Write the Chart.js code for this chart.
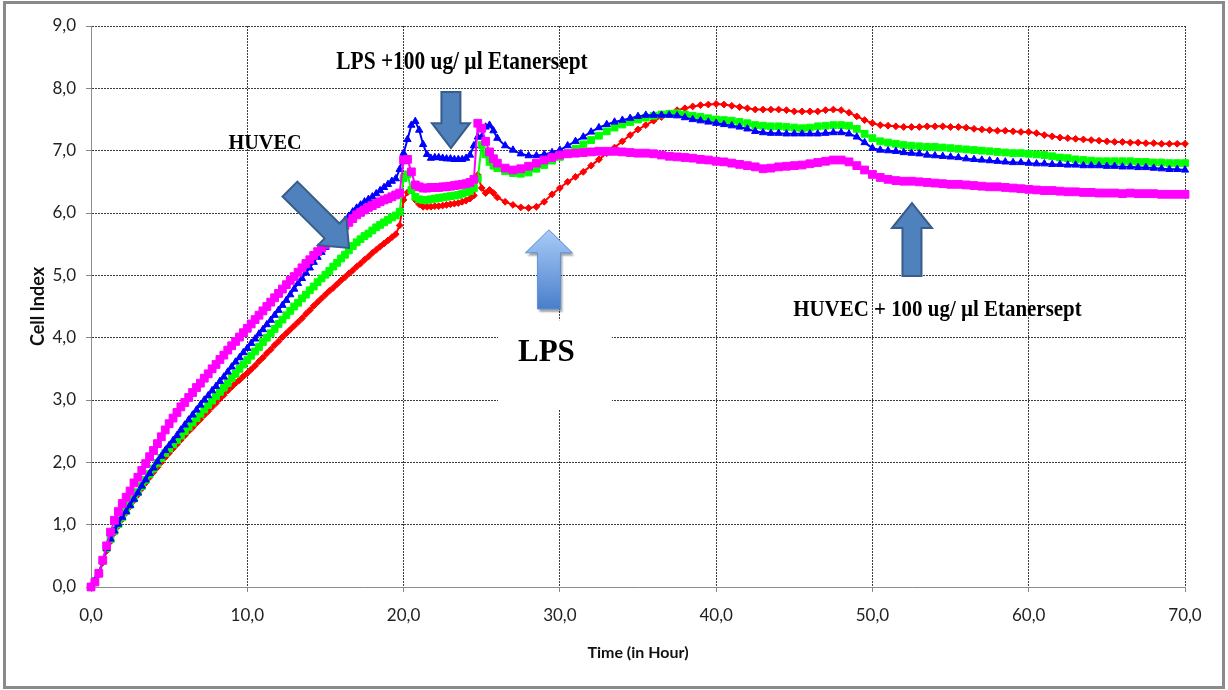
<!DOCTYPE html>
<html>
<head>
<meta charset="utf-8">
<script src="https://cdn.jsdelivr.net/npm/chart.js@4.4.1/dist/chart.umd.min.js"></script>
<style>
  body { margin: 0; background: #fff; }
  #wrap { width: 1228px; height: 690px; }
</style>
</head>
<body>
<div id="wrap"><canvas id="chart" width="1228" height="690"></canvas></div>
<script>
// time points (hours)
const times = [
  0, 0.25, 0.5, 0.75, 1, 1.25, 1.5, 1.75,
  2, 2.25, 2.5, 2.75, 3, 3.25, 3.5, 3.75,
  4, 4.25, 4.5, 4.75, 5, 5.25, 5.5, 5.75,
  6, 6.25, 6.5, 6.75, 7, 7.25, 7.5, 7.75,
  8, 8.25, 8.5, 8.75, 9, 9.25, 9.5, 9.75,
  10, 10.25, 10.5, 10.75, 11, 11.25, 11.5, 11.75,
  12, 12.25, 12.5, 12.75, 13, 13.25, 13.5, 13.75,
  14, 14.25, 14.5, 14.75, 15, 15.25, 15.5, 15.75,
  16, 16.25, 16.5, 16.75, 17, 17.25, 17.5, 17.75,
  18, 18.25, 18.5, 18.75, 19, 19.25, 19.5,
  19.75, 20, 20.25, 20.5, 20.75, 21, 21.25, 21.5, 21.75, 22, 22.25, 22.5, 22.75,
  23, 23.25, 23.5, 23.75, 24, 24.25, 24.5, 24.75, 25, 25.25, 25.5, 25.75, 26,
  26.5, 27, 27.5, 28, 28.5, 29, 29.5, 30, 30.5, 31,
  31.5, 32, 32.5, 33, 33.5, 34, 34.5, 35, 35.5, 36,
  36.5, 37, 37.5, 38, 38.5, 39, 39.5, 40, 40.5, 41,
  41.5, 42, 42.5, 43, 43.5, 44, 44.5, 45, 45.5, 46,
  46.5, 47, 47.5, 48, 48.5, 49, 49.5, 50, 50.5, 51,
  51.5, 52, 52.5, 53, 53.5, 54, 54.5, 55, 55.5, 56,
  56.5, 57, 57.5, 58, 58.5, 59, 59.5, 60, 60.5, 61,
  61.5, 62, 62.5, 63, 63.5, 64, 64.5, 65, 65.5, 66,
  66.5, 67, 67.5, 68, 68.5, 69, 69.5, 70
];

// cell index, red (diamonds)
const redSeries = [
  0.00, 0.09, 0.20, 0.39, 0.58, 0.73, 0.87, 0.98,
  1.09, 1.19, 1.29, 1.39, 1.48, 1.58, 1.67, 1.76,
  1.84, 1.92, 2.00, 2.08, 2.15, 2.22, 2.29, 2.36,
  2.43, 2.50, 2.56, 2.63, 2.69, 2.76, 2.82, 2.89,
  2.95, 3.02, 3.08, 3.15, 3.21, 3.27, 3.32, 3.38,
  3.43, 3.49, 3.55, 3.62, 3.68, 3.75, 3.81, 3.88,
  3.94, 4.01, 4.07, 4.13, 4.19, 4.25, 4.31, 4.38,
  4.44, 4.51, 4.57, 4.63, 4.69, 4.75, 4.80, 4.86,
  4.92, 4.97, 5.03, 5.08, 5.14, 5.19, 5.25, 5.30,
  5.36, 5.41, 5.46, 5.51, 5.56, 5.61, 5.66,
  5.80, 6.21, 6.33, 6.36, 6.21, 6.14, 6.10, 6.10, 6.10, 6.11, 6.11, 6.12, 6.13,
  6.14, 6.15, 6.16, 6.18, 6.20, 6.23, 6.28, 6.61, 6.40, 6.32, 6.37, 6.32, 6.25,
  6.18, 6.13, 6.09, 6.08, 6.10, 6.18, 6.30, 6.40, 6.50, 6.58,
  6.66, 6.76, 6.86, 6.96, 7.05, 7.15, 7.25, 7.34, 7.41, 7.48,
  7.54, 7.60, 7.65, 7.68, 7.71, 7.73, 7.74, 7.75, 7.74, 7.72,
  7.70, 7.68, 7.66, 7.66, 7.66, 7.66, 7.65, 7.63, 7.63, 7.63,
  7.63, 7.65, 7.66, 7.65, 7.61, 7.55, 7.49, 7.44, 7.41, 7.40,
  7.39, 7.38, 7.38, 7.38, 7.39, 7.39, 7.39, 7.38, 7.38, 7.37,
  7.35, 7.34, 7.33, 7.32, 7.32, 7.31, 7.30, 7.30, 7.28, 7.25,
  7.23, 7.21, 7.20, 7.19, 7.18, 7.17, 7.16, 7.15, 7.14, 7.14,
  7.13, 7.13, 7.12, 7.12, 7.11, 7.11, 7.11, 7.11
];

// cell index, green (squares)
const greenSeries = [
  0.00, 0.10, 0.22, 0.42, 0.62, 0.77, 0.90, 1.01,
  1.12, 1.22, 1.32, 1.42, 1.52, 1.62, 1.72, 1.81,
  1.90, 1.99, 2.07, 2.15, 2.22, 2.29, 2.36, 2.43,
  2.50, 2.57, 2.64, 2.71, 2.78, 2.85, 2.92, 2.99,
  3.06, 3.13, 3.20, 3.27, 3.35, 3.42, 3.50, 3.57,
  3.64, 3.71, 3.78, 3.85, 3.93, 4.00, 4.07, 4.14,
  4.22, 4.29, 4.36, 4.43, 4.50, 4.56, 4.63, 4.69,
  4.76, 4.82, 4.89, 4.95, 5.01, 5.07, 5.14, 5.20,
  5.27, 5.33, 5.40, 5.47, 5.53, 5.58, 5.63, 5.67,
  5.72, 5.77, 5.81, 5.85, 5.89, 5.93, 5.96,
  6.02, 6.56, 6.62, 6.37, 6.26, 6.22, 6.21, 6.21, 6.22, 6.23, 6.24, 6.25, 6.26,
  6.27, 6.28, 6.29, 6.31, 6.33, 6.35, 6.40, 6.55, 7.09, 6.94, 6.82, 6.76, 6.72,
  6.67, 6.64, 6.63, 6.65, 6.71, 6.77, 6.84, 6.90, 6.96, 7.03,
  7.10, 7.17, 7.24, 7.31, 7.37, 7.42, 7.46, 7.50, 7.53, 7.56,
  7.58, 7.59, 7.60, 7.58, 7.56, 7.54, 7.52, 7.50, 7.49, 7.48,
  7.46, 7.44, 7.41, 7.40, 7.39, 7.39, 7.38, 7.37, 7.36, 7.37,
  7.39, 7.40, 7.41, 7.41, 7.40, 7.35, 7.27, 7.20, 7.15, 7.13,
  7.11, 7.09, 7.08, 7.07, 7.06, 7.06, 7.05, 7.04, 7.03, 7.02,
  7.01, 7.00, 6.99, 6.98, 6.97, 6.96, 6.96, 6.95, 6.94, 6.93,
  6.91, 6.89, 6.88, 6.86, 6.85, 6.84, 6.83, 6.83, 6.83, 6.83,
  6.83, 6.82, 6.82, 6.81, 6.81, 6.80, 6.80, 6.80
];

// cell index, blue (triangles)
const blueSeries = [
  0.00, 0.10, 0.22, 0.42, 0.62, 0.77, 0.90, 1.01,
  1.12, 1.21, 1.31, 1.41, 1.51, 1.62, 1.72, 1.82,
  1.91, 2.01, 2.10, 2.19, 2.27, 2.35, 2.43, 2.52,
  2.60, 2.68, 2.76, 2.84, 2.92, 3.00, 3.07, 3.15,
  3.22, 3.30, 3.37, 3.45, 3.53, 3.61, 3.68, 3.76,
  3.83, 3.91, 3.98, 4.06, 4.13, 4.21, 4.28, 4.36,
  4.44, 4.52, 4.60, 4.69, 4.78, 4.87, 4.95, 5.04,
  5.12, 5.21, 5.29, 5.37, 5.45, 5.54, 5.62, 5.71,
  5.80, 5.88, 5.95, 6.02, 6.08, 6.13, 6.18, 6.22,
  6.26, 6.31, 6.36, 6.41, 6.46, 6.51, 6.55,
  6.70, 6.96, 7.18, 7.41, 7.47, 7.33, 7.10, 6.94, 6.88, 6.89, 6.89, 6.88, 6.87,
  6.87, 6.86, 6.86, 6.86, 6.88, 6.93, 7.08, 7.22, 7.22, 7.38, 7.41, 7.32, 7.20,
  7.08, 7.01, 6.95, 6.92, 6.92, 6.94, 6.97, 7.01, 7.08, 7.15,
  7.22, 7.30, 7.37, 7.42, 7.46, 7.49, 7.52, 7.55, 7.57, 7.57,
  7.57, 7.57, 7.56, 7.53, 7.50, 7.48, 7.46, 7.44, 7.42, 7.40,
  7.38, 7.35, 7.31, 7.29, 7.28, 7.28, 7.27, 7.27, 7.27, 7.27,
  7.27, 7.28, 7.29, 7.29, 7.27, 7.22, 7.13, 7.04, 7.01, 7.00,
  6.99, 6.97, 6.96, 6.95, 6.93, 6.92, 6.91, 6.90, 6.89, 6.87,
  6.86, 6.85, 6.84, 6.83, 6.82, 6.81, 6.81, 6.80, 6.79, 6.79,
  6.78, 6.78, 6.77, 6.77, 6.76, 6.76, 6.76, 6.75, 6.75, 6.74,
  6.74, 6.73, 6.73, 6.72, 6.71, 6.70, 6.70, 6.69
];

// cell index, magenta (big squares)
const magentaSeries = [
  0.00, 0.08, 0.22, 0.43, 0.66, 0.88, 1.07, 1.21,
  1.34, 1.44, 1.54, 1.67, 1.76, 1.87, 1.98, 2.09,
  2.19, 2.30, 2.41, 2.52, 2.62, 2.71, 2.80, 2.89,
  2.96, 3.04, 3.12, 3.20, 3.27, 3.35, 3.42, 3.50,
  3.57, 3.65, 3.72, 3.80, 3.87, 3.94, 4.01, 4.08,
  4.15, 4.22, 4.29, 4.36, 4.43, 4.50, 4.57, 4.64,
  4.71, 4.78, 4.85, 4.92, 4.98, 5.05, 5.12, 5.19,
  5.25, 5.32, 5.38, 5.44, 5.49, 5.55, 5.61, 5.68,
  5.75, 5.80, 5.85, 5.91, 5.97, 6.01, 6.05, 6.09,
  6.12, 6.15, 6.18, 6.21, 6.23, 6.26, 6.29,
  6.32, 6.85, 6.86, 6.66, 6.45, 6.42, 6.40, 6.40, 6.41, 6.41, 6.41, 6.42, 6.42,
  6.43, 6.44, 6.45, 6.46, 6.47, 6.49, 6.54, 7.44, 7.36, 7.15, 6.98, 6.87, 6.80,
  6.72, 6.69, 6.71, 6.75, 6.80, 6.85, 6.89, 6.93, 6.95, 6.96,
  6.97, 6.98, 6.99, 6.99, 6.99, 6.98, 6.97, 6.96, 6.96, 6.95,
  6.93, 6.91, 6.90, 6.89, 6.88, 6.86, 6.85, 6.83, 6.82, 6.80,
  6.78, 6.76, 6.74, 6.71, 6.72, 6.74, 6.75, 6.76, 6.77, 6.79,
  6.81, 6.83, 6.85, 6.85, 6.82, 6.76, 6.69, 6.62, 6.57, 6.54,
  6.52, 6.51, 6.51, 6.50, 6.49, 6.48, 6.47, 6.46, 6.46, 6.45,
  6.44, 6.43, 6.42, 6.42, 6.41, 6.40, 6.39, 6.38, 6.37, 6.36,
  6.36, 6.35, 6.34, 6.34, 6.33, 6.33, 6.32, 6.32, 6.32, 6.31,
  6.32, 6.31, 6.31, 6.31, 6.30, 6.30, 6.30, 6.30
];

// axis ticks
const xTicks = [0, 10, 20, 30, 40, 50, 60, 70];
const yTicks = [0, 1, 2, 3, 4, 5, 6, 7, 8, 9];

// annotations (data coordinates: [hour, cell index])
const blockArrows = [
  { from: [12.73, 6.385], to: [16.51, 5.44], shaft: 21, head: 40, headLen: 24 },
  { from: [23.03, 7.94], to: [23.03, 7.04], shaft: 19, head: 38, headLen: 25 },
  { from: [52.53, 4.99], to: [52.53, 6.16], shaft: 19, head: 40, headLen: 25 }
];
const lpsArrow = { from: [29.30, 4.46], to: [29.30, 5.73], shaft: 23, head: 47, headLen: 23 };
const lpsBox = { from: [26.04, 4.28], to: [33.33, 2.84] };
const notes = [
  { text: "HUVEC", at: [11.13, 7.12], size: 22, sx: 0.92 },
  { text: "LPS +100 ug/ µl Etanersept", at: [23.74, 8.42], size: 25, sx: 0.855 },
  { text: "HUVEC + 100 ug/ µl Etanersept", at: [54.16, 4.44], size: 23, sx: 0.91 },
  { text: "LPS", at: [29.14, 3.754], size: 32, sx: 0.97 }
];

const fmt = v => v.toFixed(1).replace(".", ",");

function pt(chart, p) {
  return { x: chart.scales.x.getPixelForValue(p[0]), y: chart.scales.y.getPixelForValue(p[1]) };
}

function arrowPath(ctx, a, b, shaft, head, headLen) {
  const dx = b.x - a.x, dy = b.y - a.y;
  const len = Math.hypot(dx, dy);
  const ux = dx / len, uy = dy / len;
  const nx = -uy, ny = ux;
  const neck = { x: b.x - ux * headLen, y: b.y - uy * headLen };
  const s = shaft / 2, h = head / 2;
  ctx.beginPath();
  ctx.moveTo(a.x + nx * s, a.y + ny * s);
  ctx.lineTo(neck.x + nx * s, neck.y + ny * s);
  ctx.lineTo(neck.x + nx * h, neck.y + ny * h);
  ctx.lineTo(b.x, b.y);
  ctx.lineTo(neck.x - nx * h, neck.y - ny * h);
  ctx.lineTo(neck.x - nx * s, neck.y - ny * s);
  ctx.lineTo(a.x - nx * s, a.y - ny * s);
  ctx.closePath();
}

const framePlugin = {
  id: "frame",
  beforeDraw(chart) {
    const ctx = chart.ctx;
    ctx.save();
    ctx.fillStyle = "#fff";
    ctx.fillRect(0, 0, chart.width, chart.height);
    ctx.restore();
  },
  afterDraw(chart) {
    const ctx = chart.ctx;
    ctx.save();
    ctx.strokeStyle = "#8a8a8a";
    ctx.lineWidth = 3;
    ctx.strokeRect(4.5, 2.5, 1219, 685);
    ctx.restore();
  }
};

const notesPlugin = {
  id: "notes",
  afterDatasetsDraw(chart) {
    const ctx = chart.ctx;
    ctx.save();

    // white patch behind "LPS"
    const b1 = pt(chart, lpsBox.from), b2 = pt(chart, lpsBox.to);
    ctx.fillStyle = "#fff";
    ctx.fillRect(b1.x, b1.y, b2.x - b1.x, b2.y - b1.y);

    // dark block arrows
    blockArrows.forEach(a => {
      arrowPath(ctx, pt(chart, a.from), pt(chart, a.to), a.shaft, a.head, a.headLen);
      ctx.fillStyle = "#4f81bd";
      ctx.fill();
      ctx.lineWidth = 2;
      ctx.strokeStyle = "#385d8a";
      ctx.stroke();
    });

    // gradient LPS arrow with shadow
    const la = pt(chart, lpsArrow.from), lb = pt(chart, lpsArrow.to);
    ctx.save();
    ctx.shadowColor = "rgba(0,0,0,0.35)";
    ctx.shadowOffsetX = 2;
    ctx.shadowOffsetY = 3;
    ctx.shadowBlur = 2;
    const grad = ctx.createLinearGradient(0, lb.y, 0, la.y);
    grad.addColorStop(0, "#a9ccf8");
    grad.addColorStop(1, "#4a7ecb");
    arrowPath(ctx, la, lb, lpsArrow.shaft, lpsArrow.head, lpsArrow.headLen);
    ctx.fillStyle = grad;
    ctx.fill();
    ctx.restore();
    arrowPath(ctx, la, lb, lpsArrow.shaft, lpsArrow.head, lpsArrow.headLen);
    ctx.lineWidth = 1;
    ctx.strokeStyle = "#5b8fd8";
    ctx.stroke();

    // labels
    ctx.fillStyle = "#000";
    ctx.textAlign = "center";
    ctx.textBaseline = "middle";
    notes.forEach(n => {
      const p = pt(chart, n.at);
      ctx.save();
      ctx.translate(p.x, p.y);
      ctx.scale(n.sx, 1);
      ctx.font = "bold " + n.size + "px 'Liberation Serif', 'Times New Roman', serif";
      ctx.fillText(n.text, 0, 0);
      ctx.restore();
    });
    ctx.restore();
  }
};

function series(label, values, color, style, radius) {
  return {
    label: label,
    data: times.map((t, i) => ({ x: t, y: values[i] })),
    borderColor: color,
    backgroundColor: color,
    borderWidth: 2,
    pointStyle: style,
    pointRadius: radius,
    pointBorderWidth: 1,
    pointBorderColor: color,
    pointBackgroundColor: color,
    clip: false
  };
}

const gridColor = ctx => (ctx.tick && ctx.tick.value === 0 ? "rgba(0,0,0,0)" : "#3c3c3c");

new Chart(document.getElementById("chart"), {
  type: "line",
  data: {
    datasets: [
      series("magenta", magentaSeries, "#ff00ff", "rect", 5.5),
      series("blue", blueSeries, "#0000ff", "triangle", 4.2),
      series("green", greenSeries, "#00ff00", "rect", 4.8),
      series("red", redSeries, "#ff0000", "rectRot", 3.4)
    ]
  },
  options: {
    responsive: false,
    animation: false,
    devicePixelRatio: 1,
    layout: { padding: { top: 26, right: 43, bottom: 0, left: 0 } },
    plugins: { legend: { display: false }, tooltip: { enabled: false } },
    scales: {
      x: {
        type: "linear",
        min: 0,
        max: 70,
        afterBuildTicks: s => { s.ticks = xTicks.map(v => ({ value: v })); },
        afterFit: s => { s.height = 103; },
        ticks: {
          callback: v => fmt(v),
          color: "#222",
          padding: 13,
          maxRotation: 0,
          font: { family: "Lato", size: 17 }
        },
        grid: { color: gridColor, tickColor: "#888", tickLength: 5, lineWidth: 1 },
        border: { color: "#8c8c8c", width: 1, dash: [2, 1] },
        title: {
          display: true,
          text: "Time (in Hour)",
          color: "#111",
          font: { family: "Lato", size: 16, weight: "bold" },
          padding: { top: 4, bottom: 28 }
        }
      },
      y: {
        min: 0,
        max: 9,
        afterBuildTicks: s => { s.ticks = yTicks.map(v => ({ value: v })); },
        afterFit: s => { s.width = 91; },
        ticks: {
          callback: v => fmt(v),
          color: "#222",
          padding: 10,
          font: { family: "Lato", size: 17 }
        },
        grid: { color: gridColor, tickColor: "#888", tickLength: 5, lineWidth: 1 },
        border: { color: "#8c8c8c", width: 1, dash: [2, 1] },
        title: {
          display: true,
          text: "Cell Index",
          color: "#111",
          font: { family: "Lato", size: 18, weight: "bold" },
          padding: { top: 27, bottom: 0 }
        }
      }
    }
  },
  plugins: [framePlugin, notesPlugin]
});
</script>
</body>
</html>
